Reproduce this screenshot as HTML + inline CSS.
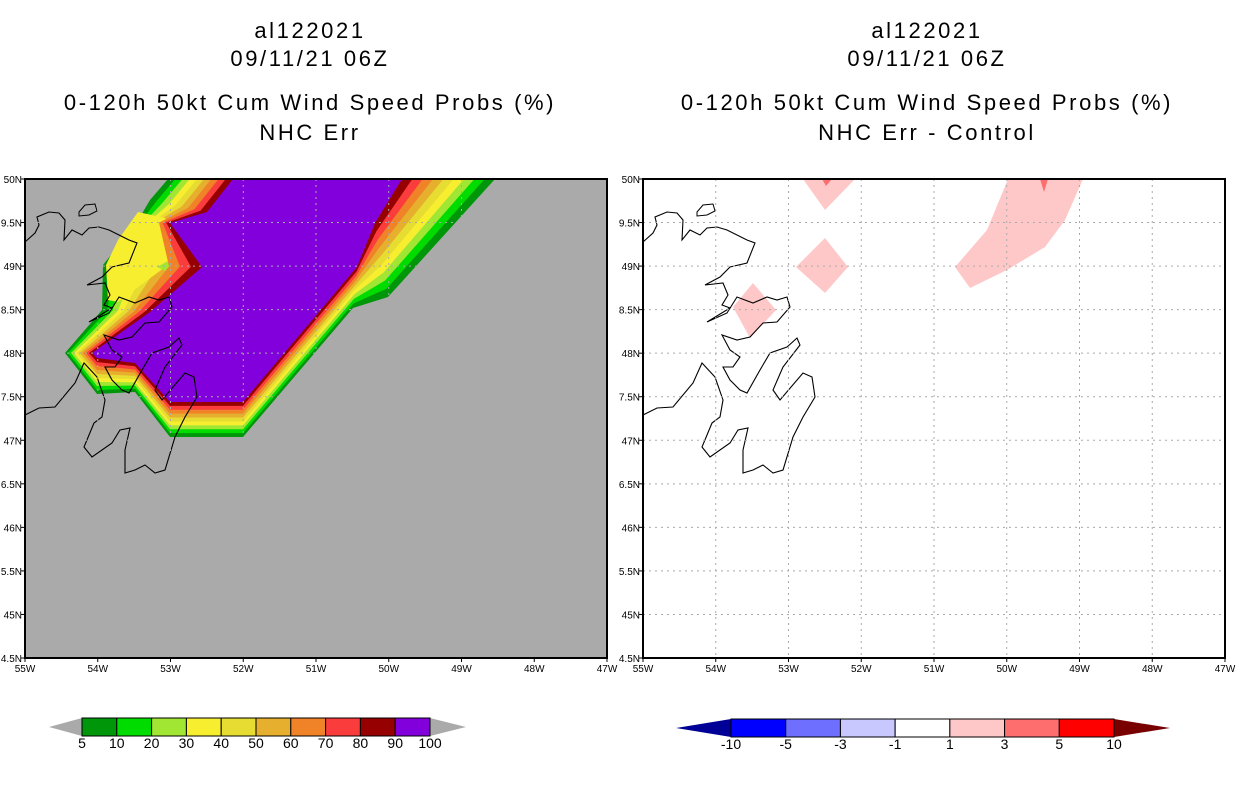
<!DOCTYPE html>
<html><head><meta charset="utf-8"><style>
html,body{margin:0;padding:0;background:#fff;width:1236px;height:800px;overflow:hidden}
svg text{font-family:"Liberation Sans",sans-serif}
.t{font-size:22px;fill:#000;text-anchor:middle;letter-spacing:2.6px}
.lab{font-size:10px;fill:#000}
</style></head><body>
<svg id="s" width="1236" height="800" viewBox="0 0 1236 800" xmlns="http://www.w3.org/2000/svg">
<g>
<text class="t" x="310" y="38">al122021</text>
<text class="t" x="310" y="66">09/11/21 06Z</text>
<text class="t" x="310" y="110">0-120h 50kt Cum Wind Speed Probs (%)</text>
<text class="t" x="310" y="140">NHC Err</text>
</g>
<g>
<text class="t" x="927" y="38">al122021</text>
<text class="t" x="927" y="66">09/11/21 06Z</text>
<text class="t" x="927" y="110">0-120h 50kt Cum Wind Speed Probs (%)</text>
<text class="t" x="927" y="140">NHC Err - Control</text>
</g>
<g id="L"></g>
<g id="R"></g>
<g id="CB"></g>
</svg>
<script>
const NS="http://www.w3.org/2000/svg";
const lonTicks=[55,54,53,52,51,50,49,48,47];
const latTicks=[50,49.5,49,48.5,48,47.5,47,46.5,46,45.5,45,44.5];
const latLabels=["50N","9.5N","49N","8.5N","48N","7.5N","47N","6.5N","46N","5.5N","45N","4.5N"];
const probLevels=["5","10","20","30","40","50","60","70","80","90","100"];
const probColors=["#00960a","#00dc00","#a0e632","#f7ee30","#e6dc32","#e6af2d","#f08228","#fa3c3c","#960000","#8200dc"];
const diffLevels=["-10","-5","-3","-1","1","3","5","10"];
const diffColors=["#0000ff","#6e6eff","#c8c8ff","#ffffff","#ffc8c8","#ff6e6e","#ff0000"];
const outerPoly=[[168,179],[495,179],[388,297],[353,308],[243,437],[170,437],[135,392],[97,394],[65,353],[102,310],[103,265],[137,222],[150,200]];
const innerPoly=[[233,179],[402,179],[375,223],[357,267],[243,402],[170,402],[135,363],[97,358],[92,353],[150,312],[202,267],[170,223],[207,212]];
const yellowBlob=[[138,212],[165,218],[182,246],[172,262],[145,282],[118,302],[108,300],[106,265],[118,240]];
const coast=[[643,242],[653,233],[657,225],[655,217],[667,212],[677,213],[683,220],[682,240],[690,230],[700,235],[707,228],[717,227],[727,230],[747,240],[755,243],[747,263],[730,267],[720,277],[705,285],[723,283],[728,295],[722,305],[730,308],[707,322],[727,313],[737,297],[753,303],[767,297],[777,300],[787,297],[790,307],[777,322],[763,323],[750,337],[737,340],[722,335],[730,350],[740,357],[733,367],[723,367],[730,380],[740,390],[747,393],[760,370],[770,353],[787,347],[797,338],[800,345],[783,367],[773,390],[780,400],[803,373],[812,377],[815,397],[803,417],[793,437],[783,470],[773,473],[763,465],[753,470],[743,473],[743,450],[748,428],[738,430],[730,443],[710,457],[702,447],[712,423],[720,417],[723,400],[715,377],[702,363],[693,383],[673,407],[657,408],[643,415]];
const island=[[697,212],[703,205],[713,204],[715,211],[707,215],[697,216]];
const diffPolys=[
 {c:"#ffc8c8",p:[[803,179],[855,179],[825,210]]},
 {c:"#ff6e6e",p:[[822,179],[832,179],[826,186]]},
 {c:"#ffc8c8",p:[[825,238],[848,267],[825,293],[796,267]]},
 {c:"#ffc8c8",p:[[753,283],[776,310],[750,338],[733,307]]},
 {c:"#ffc8c8",p:[[1008,179],[1083,179],[1065,220],[1045,247],[1007,270],[970,288],[955,267],[987,230]]},
 {c:"#ff6e6e",p:[[1040,179],[1048,179],[1044,192]]}];
function el(t,a,p){const e=document.createElementNS(NS,t);for(const k in a)e.setAttribute(k,a[k]);p.appendChild(e);return e;}
function pts(a,dx){return a.map(q=>(q[0]+dx)+","+q[1]).join(" ");}
function panel(g,x0,fill,isLeft){
 const y0=179,w=582,h=479;
 const X=lon=>x0+(55-lon)/8*w, Y=lat=>y0+(50-lat)/5.5*h;
 let r=el("rect",{x:x0,y:y0,width:w,height:h,fill:fill},g);
 
 
 const dx=x0-643;
 if(isLeft){
  for(let i=0;i<probColors.length;i++){
   const t=i/(probColors.length-1);
   const poly=outerPoly.map((q,j)=>[q[0]+(innerPoly[j][0]-q[0])*t,q[1]+(innerPoly[j][1]-q[1])*t]);
   const p=el("polygon",{points:pts(poly,0),fill:probColors[i]},g);
   
   
   if(i===5){
    const yb=el("polygon",{points:pts(yellowBlob,0),fill:"#f7ee30"},g);
    
    
    const d=el("polygon",{points:"157,267 170,260 177,267 170,273",fill:"#a0e632"},g);
    
    
   }
  }
 } else {
  diffPolys.forEach(o=>{const p=el("polygon",{points:pts(o.p,0),fill:o.c},g);
   
   });
 }
 const cl=el("polyline",{points:pts(coast,dx),fill:"none",stroke:"#000","stroke-width":1.1},g);
 
 
 el("polygon",{points:pts(island,dx),fill:"none",stroke:"#000","stroke-width":1},g);
 lonTicks.forEach((lon,i)=>{
  const x=X(lon);
  if(i>0&&i<lonTicks.length-1)el("line",{x1:x,x2:x,y1:y0,y2:y0+h,stroke:"#aaa","stroke-dasharray":"2,4","stroke-width":1},g);
  el("line",{x1:x,x2:x,y1:y0+h,y2:y0+h+4,stroke:"#000"},g);
  const t=el("text",{x:x,y:y0+h+14,class:"lab","text-anchor":"middle"},g);t.textContent=lon+"W";
  
  
 });
 latTicks.forEach((lat,i)=>{
  const y=Y(lat);
  if(i>0&&i<latTicks.length-1)el("line",{x1:x0,x2:x0+w,y1:y,y2:y,stroke:"#aaa","stroke-dasharray":"2,4","stroke-width":1},g);
  el("line",{x1:x0-4,x2:x0,y1:y,y2:y,stroke:"#000"},g);
  const t=el("text",{x:x0-3,y:y+4,class:"lab","text-anchor":"end"},g);t.textContent=latLabels[i];
  
  
 });
 el("rect",{x:x0,y:y0,width:w,height:h,fill:"none",stroke:"#000","stroke-width":2},g);
}
panel(document.getElementById("L"),25,"#aaaaaa",true);
panel(document.getElementById("R"),643,"#ffffff",false);
function cbar(g,x0,x1,yc,cols,labs,lc,rc,tipL,tipR){
 const bw=(x1-x0)/cols.length;
 el("polygon",{points:`${tipL},${yc} ${x0},${yc-9} ${x0},${yc+9}`,fill:lc},g);
 el("polygon",{points:`${tipR},${yc} ${x1},${yc-9} ${x1},${yc+9}`,fill:rc},g);
 cols.forEach((c,i)=>{const r=el("rect",{x:x0+i*bw,y:yc-9,width:bw,height:18,fill:c,stroke:"#000","stroke-width":1},g);
  
  });
 labs.forEach((l,i)=>{const t=el("text",{x:x0+i*bw,y:yc+21,"text-anchor":"middle","font-size":"14px"},g);t.textContent=l;
  
  });
}
const cb=document.getElementById("CB");
cbar(cb,82,430,727,probColors,probLevels,"#aaaaaa","#aaaaaa",49,466);
cbar(cb,731,1114,728,diffColors,diffLevels,"#000096","#780000",676,1170);
</script>
</body></html>
